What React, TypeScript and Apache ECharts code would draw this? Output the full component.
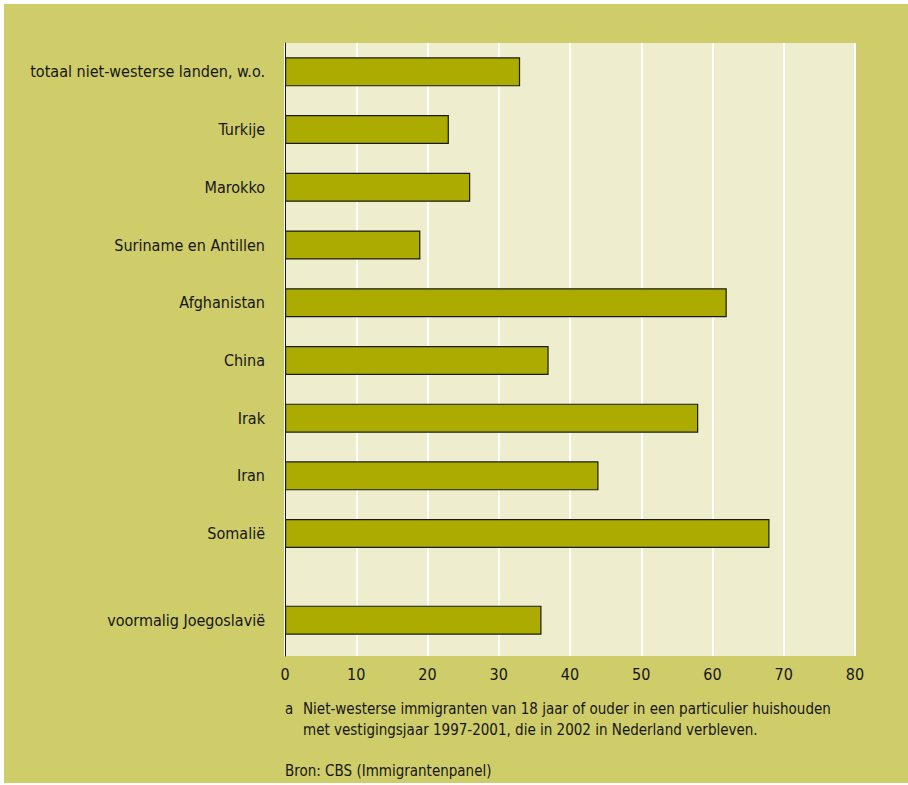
import React, { useEffect, useRef } from 'react';
import * as echarts from 'echarts';

const categories = [
  'totaal niet-westerse landen, w.o.',
  'Turkije',
  'Marokko',
  'Suriname en Antillen',
  'Afghanistan',
  'China',
  'Irak',
  'Iran',
  'Somalië',
  'voormalig Joegoslavië',
];
const values = [33, 23, 26, 19, 62, 37, 58, 44, 68, 36];
const gapBefore = ['voormalig Joegoslavië'];
const xMin = 0;
const xMax = 80;
const xInterval = 10;
const footnoteMarker = 'a';
const footnoteLines = [
  'Niet-westerse immigranten van 18 jaar of ouder in een particulier huishouden',
  'met vestigingsjaar 1997-2001, die in 2002 in Nederland verbleven.',
];
const sourceText = 'Bron: CBS (Immigrantenpanel)';

const FONT = '"DejaVu Sans Condensed", "Liberation Sans Narrow", sans-serif';
const TEXT = '#161616';

export default function App() {
  const ref = useRef<HTMLDivElement>(null);
  useEffect(() => {
    if (!ref.current) return;
    const chart = echarts.init(ref.current, undefined, { renderer: 'svg' });

    // build half-slot layout: each bar on its own slot, with a wider gap where requested
    const positions: number[] = [];
    let pos = 1;
    categories.forEach((c, i) => {
      if (i > 0) pos += gapBefore.includes(c) ? 3 : 2;
      positions.push(pos);
    });
    const nSlots = pos + 2;
    const slotKeys = Array.from({ length: nSlots }, (_, i) => 's' + i);
    const slotLabel: Record<string, string> = {};
    const barData: (number | null)[] = Array(nSlots).fill(null);
    positions.forEach((p, i) => {
      slotLabel['s' + p] = categories[i];
      barData[p] = values[i];
    });

    const panelTop = 39;
    const panelHeight = 613;
    const slot = 28.85;
    const gridLeft = 281;
    const gridWidth = 570;

    chart.setOption({
      animation: false,
      backgroundColor: '#cfcc6a',
      grid: [
        {
          left: gridLeft,
          top: panelTop,
          width: gridWidth,
          height: panelHeight,
          show: true,
          backgroundColor: '#eeedce',
          borderWidth: 0,
        },
        {
          left: gridLeft,
          top: panelTop,
          width: gridWidth,
          height: Math.round(slot * (nSlots - 1)),
          show: false,
        },
      ],
      xAxis: [
        {
          gridIndex: 0,
          type: 'value',
          min: xMin,
          max: xMax,
          interval: xInterval,
          axisLine: { show: false },
          axisTick: { show: false },
          splitLine: { show: true, lineStyle: { color: '#ffffff', width: 2 } },
          axisLabel: {
            color: TEXT,
            fontFamily: FONT,
            fontSize: 16,
            margin: 10,
          },
        },
        {
          gridIndex: 1,
          type: 'value',
          min: xMin,
          max: xMax,
          show: false,
        },
      ],
      yAxis: [
        {
          gridIndex: 0,
          type: 'value',
          min: 0,
          max: 1,
          axisLine: { show: true, lineStyle: { color: '#1a1a1a', width: 1 } },
          axisTick: { show: false },
          axisLabel: { show: false },
          splitLine: { show: false },
        },
        {
          gridIndex: 1,
          type: 'category',
          inverse: true,
          boundaryGap: false,
          data: slotKeys,
          axisLine: { show: false },
          axisTick: { show: false },
          splitLine: { show: false },
          axisLabel: {
            interval: 0,
            margin: 20,
            color: TEXT,
            fontFamily: FONT,
            fontSize: 16,
            formatter: (v: string) => slotLabel[v] || '',
          },
        },
      ],
      series: [
        {
          type: 'bar',
          xAxisIndex: 1,
          yAxisIndex: 1,
          data: barData,
          barWidth: 29,
          itemStyle: {
            color: '#acab00',
            borderColor: '#1a1a1a',
            borderWidth: 1.2,
          },
        },
      ],
      graphic: [
        {
          type: 'text',
          left: 281,
          top: 694,
          style: { text: footnoteMarker, fill: TEXT, font: `15px ${FONT}`, lineHeight: 21 },
        },
        {
          type: 'text',
          left: 299,
          top: 694,
          style: {
            text: footnoteLines.join('\n'),
            fill: TEXT,
            font: `15px ${FONT}`,
            lineHeight: 21,
          },
        },
        {
          type: 'text',
          left: 281,
          top: 759,
          style: { text: sourceText, fill: TEXT, font: `15px ${FONT}` },
        },
      ],
    });
    return () => chart.dispose();
  }, []);

  return (
    <div style={{ position: 'absolute', left: 0, top: 0, width: 908, height: 785, background: '#ffffff' }}>
      <div ref={ref} style={{ position: 'absolute', left: 4, top: 4, width: 904, height: 779 }} />
    </div>
  );
}
